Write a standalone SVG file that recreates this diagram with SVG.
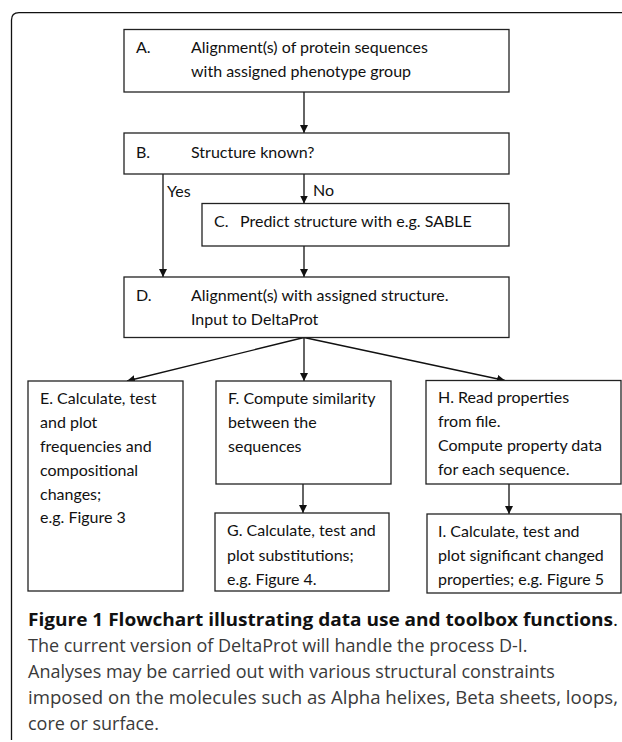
<svg xmlns="http://www.w3.org/2000/svg" width="622" height="742" viewBox="0 0 622 742">
<style>
.box{fill:#fff;stroke:#222;stroke-width:1.3}
.t{font-family:Lato,"Open Sans",sans-serif;font-size:16px;fill:#111}
.c{stroke:#111;stroke-width:1.3;fill:none}
.cap{font-family:"Open Sans","Noto Sans",sans-serif;font-size:18px;fill:#3a3a3a}
.capb{font-family:"Open Sans","Noto Sans",sans-serif;font-size:18px;font-weight:bold;fill:#111}
</style>
<defs>
<marker id="ah" markerWidth="8" markerHeight="8" refX="8" refY="4" orient="auto" markerUnits="userSpaceOnUse">
<path d="M0,0 L8,4 L0,8 Z" fill="#111"/>
</marker>
</defs>
<path d="M11.5,740 V20 Q11.5,12.7 19,12.7 H622" fill="none" stroke="#111" stroke-width="1.3"/>
<g id="connectors">
<line class="c" x1="304" y1="92" x2="304" y2="133" marker-end="url(#ah)"/>
<line class="c" x1="163" y1="174" x2="163" y2="277" marker-end="url(#ah)"/>
<line class="c" x1="304" y1="174" x2="304" y2="203.5" marker-end="url(#ah)"/>
<line class="c" x1="304" y1="246" x2="304" y2="277" marker-end="url(#ah)"/>
<line class="c" x1="304" y1="337.5" x2="127" y2="381" marker-end="url(#ah)"/>
<line class="c" x1="304" y1="337.5" x2="304" y2="381" marker-end="url(#ah)"/>
<line class="c" x1="304" y1="337.5" x2="505" y2="380.5" marker-end="url(#ah)"/>
<line class="c" x1="303" y1="484" x2="303" y2="513" marker-end="url(#ah)"/>
<line class="c" x1="509" y1="484" x2="509" y2="514" marker-end="url(#ah)"/>
<text class="t" x="167" y="197">Yes</text>
<text class="t" x="313" y="196">No</text>
</g>
<g id="A">
<rect class="box" x="124" y="29.5" width="385" height="62.5"/>
<text class="t" x="136" y="52.5">A.</text>
<text class="t" x="191" y="52.5">Alignment(s) of protein sequences</text>
<text class="t" x="191" y="76.5">with assigned phenotype group</text>
</g>
<g id="B">
<rect class="box" x="124" y="133" width="385" height="41"/>
<text class="t" x="136" y="157.5">B.</text>
<text class="t" x="191" y="157.5">Structure known?</text>
</g>
<g id="C">
<rect class="box" x="202" y="203.5" width="307" height="42.5"/>
<text class="t" x="214" y="227">C.</text>
<text class="t" x="240" y="227">Predict structure with e.g. SABLE</text>
</g>
<g id="D">
<rect class="box" x="124" y="277" width="385" height="60.5"/>
<text class="t" x="136" y="300.5">D.</text>
<text class="t" x="191" y="300.5">Alignment(s) with assigned structure.</text>
<text class="t" x="191" y="324.5">Input to DeltaProt</text>
</g>
<g id="E">
<rect class="box" x="28" y="381" width="155" height="210"/>
<text class="t" x="40" y="404">E. Calculate, test</text>
<text class="t" x="40" y="428">and plot</text>
<text class="t" x="40" y="452">frequencies and</text>
<text class="t" x="40" y="476">compositional</text>
<text class="t" x="40" y="500">changes;</text>
<text class="t" x="40" y="523">e.g. Figure 3</text>
</g>
<g id="F">
<rect class="box" x="216" y="381" width="175" height="103"/>
<text class="t" x="228" y="404">F. Compute similarity</text>
<text class="t" x="228" y="428">between the</text>
<text class="t" x="228" y="452">sequences</text>
</g>
<g id="G">
<rect class="box" x="215" y="513" width="174" height="78"/>
<text class="t" x="227" y="536">G. Calculate, test and</text>
<text class="t" x="227" y="561">plot substitutions;</text>
<text class="t" x="227" y="585">e.g. Figure 4.</text>
</g>
<g id="H">
<rect class="box" x="426" y="380.5" width="195" height="103.5"/>
<text class="t" x="438" y="403">H. Read properties</text>
<text class="t" x="438" y="427">from file.</text>
<text class="t" x="438" y="451">Compute property data</text>
<text class="t" x="438" y="475">for each sequence.</text>
</g>
<g id="I">
<rect class="box" x="427" y="514" width="194" height="79"/>
<text class="t" x="438" y="537">I. Calculate, test and</text>
<text class="t" x="438" y="561">plot significant changed</text>
<text class="t" x="438" y="585">properties; e.g. Figure 5</text>
</g>
<g id="caption">
<text class="capb" x="28" y="626" textLength="590" lengthAdjust="spacingAndGlyphs">Figure 1 Flowchart illustrating data use and toolbox functions<tspan font-weight="normal">.</tspan></text>
<text class="cap" x="28" y="652">The current version of DeltaProt will handle the process D-I.</text>
<text class="cap" x="28" y="678">Analyses may be carried out with various structural constraints</text>
<text class="cap" x="28" y="704" textLength="590" lengthAdjust="spacingAndGlyphs">imposed on the molecules such as Alpha helixes, Beta sheets, loops,</text>
<text class="cap" x="28" y="730">core or surface.</text>
</g>
</svg>
